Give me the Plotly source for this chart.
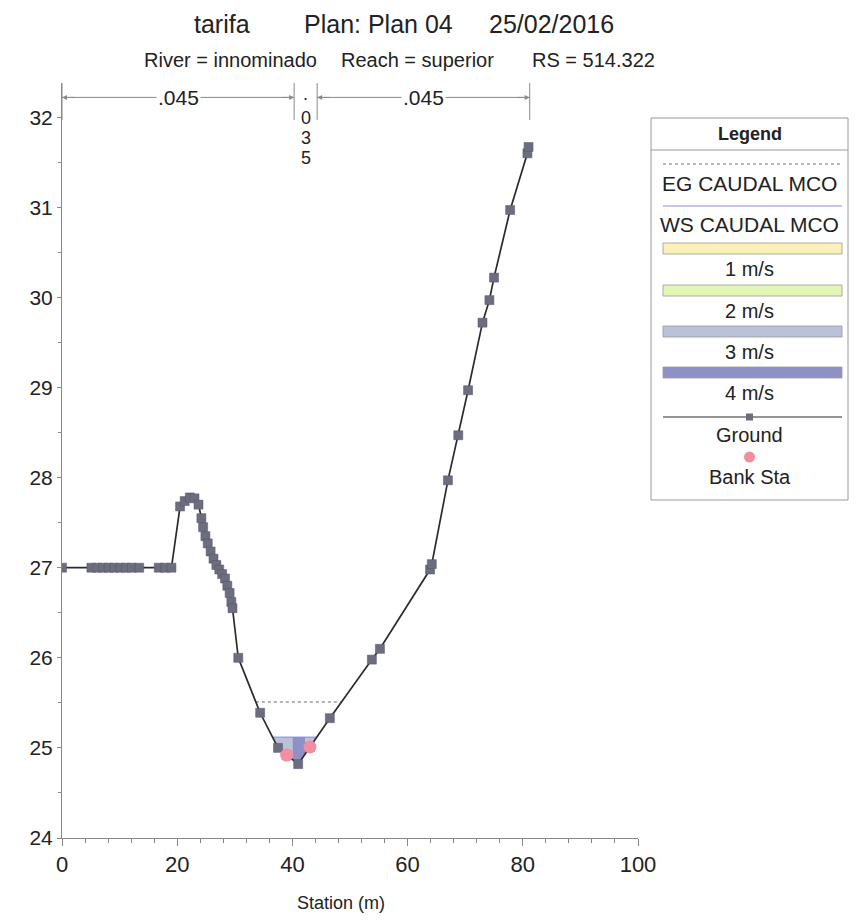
import numpy as np
import plotly.graph_objects as go

# ---------------- data ----------------
station = [0.0, 5.1, 6.1, 7.1, 8.1, 9.1, 10.1, 11.1, 12.1, 13.4, 16.8, 17.9, 19.0,
           20.5, 21.3, 22.2, 23.0, 23.7, 24.2, 24.5, 24.9, 25.3, 25.8, 26.3, 26.8,
           27.3, 27.8, 28.3, 28.7, 29.1, 29.4, 29.6, 30.6, 34.4, 37.5, 39.0, 41.0,
           43.05, 46.5, 53.8, 55.2, 63.9, 64.2, 67.0, 68.8, 70.5, 73.0, 74.2, 75.0,
           77.8, 80.8, 81.0]
elevation = [27.0, 27.0, 27.0, 27.0, 27.0, 27.0, 27.0, 27.0, 27.0, 27.0, 27.0, 27.0, 27.0,
             27.68, 27.74, 27.78, 27.77, 27.70, 27.55, 27.45, 27.35, 27.27, 27.18, 27.10, 27.03,
             26.98, 26.93, 26.88, 26.80, 26.72, 26.62, 26.55, 26.00, 25.39, 25.00, 24.92, 24.82,
             25.01, 25.33, 25.98, 26.10, 26.98, 27.04, 27.97, 28.47, 28.97, 29.72, 29.97, 30.22,
             30.97, 31.60, 31.67]
bank_sta = [39.0, 43.05]
ws_elev = 25.12           # WS CAUDAL MCO
eg_elev = 25.51           # EG CAUDAL MCO
vel_inner_edges = [40.0, 42.2]   # velocity slice boundaries inside the wetted width
vel_classes = [3, 4, 3]          # m/s class of each slice
n_breaks = [0.0, 40.3, 44.3, 81.2]
n_values = [".045", ".035", ".045"]
legend_vel = ["1 m/s", "2 m/s", "3 m/s", "4 m/s"]
title_parts = ["tarifa", "Plan: Plan 04", "25/02/2016"]
sub_parts = ["River = innominado", "Reach = superior", "RS = 514.322"]
x_title = "Station (m)"
x_ticks = [0, 20, 40, 60, 80, 100]
y_ticks = [24, 25, 26, 27, 28, 29, 30, 31, 32]
x_range = [0, 100]
y_range = [24, 32.38]

# ---------------- styles ----------------
FONT = "Arial, Liberation Sans, sans-serif"
TXT = "#222222"
vel_colors = {1: "#fbf1b8", 2: "#e4f6b6", 3: "#b9c2da", 4: "#8f91c6"}
GROUND_MK = "#6d6d80"
BANK_COL = "#f38da0"
WS_COL = "#8c8cd8"
AX_COL = "#888888"

st = np.array(station)
el = np.array(elevation)
imin = int(np.argmin(el))


def crossing(level, left=True):
    if left:
        for i in range(imin, 0, -1):
            if el[i - 1] >= level > el[i] or el[i - 1] > level >= el[i]:
                return float(np.interp(level, [el[i], el[i - 1]], [st[i], st[i - 1]]))
    else:
        for i in range(imin, len(st) - 1):
            if el[i] <= level < el[i + 1] or el[i] < level <= el[i + 1]:
                return float(np.interp(level, [el[i], el[i + 1]], [st[i], st[i + 1]]))
    return None


ws_l, ws_r = crossing(ws_elev, True), crossing(ws_elev, False)
eg_l, eg_r = crossing(eg_elev, True), crossing(eg_elev, False)

fig = go.Figure()

# velocity slices
edges = [ws_l] + vel_inner_edges + [ws_r]
for k, cls in enumerate(vel_classes):
    a, b = edges[k], edges[k + 1]
    inner = [s for s in station if a < s < b]
    xs = [a] + inner + [b]
    ys = [float(np.interp(x, st, el)) for x in xs]
    px_ = [a, b] + xs[::-1]
    py_ = [ws_elev, ws_elev] + ys[::-1]
    fig.add_trace(go.Scatter(x=px_, y=py_, fill="toself", fillcolor=vel_colors[cls],
                             line=dict(width=0), mode="lines", hoverinfo="skip",
                             showlegend=False))

# WS line
fig.add_trace(go.Scatter(x=[ws_l, ws_r], y=[ws_elev, ws_elev], mode="lines",
                         line=dict(color=WS_COL, width=1), showlegend=False))
# EG line
fig.add_trace(go.Scatter(x=[eg_l, eg_r], y=[eg_elev, eg_elev], mode="lines",
                         line=dict(color="#666666", width=1, dash="dot"), showlegend=False))
# Ground
fig.add_trace(go.Scatter(x=station, y=elevation, mode="lines+markers",
                         line=dict(color="#2b2b2b", width=1.7),
                         marker=dict(symbol="square", size=9, color=GROUND_MK,
                                     line=dict(width=0.5, color="#55556a")),
                         showlegend=False))
# Bank stations
fig.add_trace(go.Scatter(x=bank_sta, y=[float(np.interp(b, st, el)) for b in bank_sta],
                         mode="markers", marker=dict(symbol="circle", size=13, color=BANK_COL),
                         showlegend=False))

# ---------------- Manning's n annotations ----------------
n_top, n_bot, n_arrow = 32.38, 31.97, 32.22
n_char_step = 0.225
for b in n_breaks:
    fig.add_shape(type="line", xref="x", yref="y", x0=b, x1=b, y0=n_bot, y1=n_top,
                  line=dict(color="#8a8a8a", width=1), layer="above")
for k, val in enumerate(n_values):
    a, b = n_breaks[k], n_breaks[k + 1]
    mid = (a + b) / 2
    if b - a > 10:
        fig.add_shape(type="line", xref="x", yref="y", x0=a, x1=b, y0=n_arrow, y1=n_arrow,
                      line=dict(color="#8a8a8a", width=1), layer="above")
        for tip, off in ((a, 14), (b, -14)):
            fig.add_annotation(x=tip, y=n_arrow, xref="x", yref="y", ax=off, ay=0, text="",
                               showarrow=True, arrowhead=2, arrowsize=1, arrowwidth=1,
                               arrowcolor="#8a8a8a")
        fig.add_annotation(x=mid, y=n_arrow, xref="x", yref="y", xanchor="center",
                           yanchor="middle", text=val, showarrow=False,
                           bgcolor="white", font=dict(family=FONT, size=21, color=TXT))
    else:
        for j, ch in enumerate(val):
            fig.add_annotation(x=mid, y=n_arrow - j * n_char_step + (0.04 if j == 0 else 0),
                               xref="x", yref="y", xanchor="center", yanchor="middle",
                               text=ch, showarrow=False,
                               font=dict(family=FONT, size=18, color=TXT))

# ---------------- layout helpers (reference pixel -> paper) ----------------
OFF = 8                       # page body margin of the browser
W, H = 859 - OFF, 922 - OFF
L, R, T, B = 62, 638, 83, 838  # plot area in reference pixels


def px(x):
    return (x - L) / (R - L)


def py(y):
    return (B - y) / (B - T)


def label(x, y, text, size, bold=False, anchor="center"):
    fig.add_annotation(x=px(x), y=py(y), xref="paper", yref="paper", xanchor=anchor,
                       yanchor="middle", text=("<b>%s</b>" % text) if bold else text,
                       showarrow=False, font=dict(family=FONT, size=size, color=TXT))


# title lines
for txt, x0 in zip(title_parts, [192, 302, 487]):
    label(x0, 24, txt, 25, anchor="left")
for txt, x0 in zip(sub_parts, [142, 339, 530]):
    label(x0, 60, txt, 20, anchor="left")
# x-axis title
label(341, 903, x_title, 18)

# ---------------- legend box ----------------
LX0, LX1 = 651, 848
IX0, IX1 = 663, 842
CX = (LX0 + LX1) / 2
fig.add_shape(type="rect", xref="paper", yref="paper", x0=px(LX0), x1=px(LX1),
              y0=py(500), y1=py(118), line=dict(color="#9a9a9a", width=1), fillcolor="white",
              layer="below")
fig.add_shape(type="line", xref="paper", yref="paper", x0=px(LX0), x1=px(LX1),
              y0=py(150), y1=py(150), line=dict(color="#9a9a9a", width=1))
label(CX, 134, "Legend", 18, bold=True)
# EG
fig.add_shape(type="line", xref="paper", yref="paper", x0=px(IX0), x1=px(IX1),
              y0=py(164), y1=py(164), line=dict(color="#777777", width=1, dash="dot"))
label(CX, 184, "EG CAUDAL MCO", 21)
# WS
fig.add_shape(type="line", xref="paper", yref="paper", x0=px(IX0), x1=px(IX1),
              y0=py(206), y1=py(206), line=dict(color=WS_COL, width=1))
label(CX, 224, "WS CAUDAL MCO", 21)
# velocity bars
bar_tops = [243, 285, 326, 367]
for k, lab in enumerate(legend_vel):
    t = bar_tops[k]
    fig.add_shape(type="rect", xref="paper", yref="paper", x0=px(IX0), x1=px(IX1),
                  y0=py(t + 11), y1=py(t), fillcolor=vel_colors[k + 1],
                  line=dict(color="#999999", width=0.8))
    label(CX, t + 26, lab, 20)
# Ground
fig.add_shape(type="line", xref="paper", yref="paper", x0=px(IX0), x1=px(IX1),
              y0=py(417), y1=py(417), line=dict(color="#2b2b2b", width=1))
fig.add_shape(type="rect", xref="paper", yref="paper", x0=px(CX - 3.5), x1=px(CX + 3.5),
              y0=py(420.5), y1=py(413.5), fillcolor=GROUND_MK, line=dict(width=0))
label(CX, 435, "Ground", 20)
# Bank Sta
fig.add_shape(type="circle", xref="paper", yref="paper", x0=px(CX - 5.5), x1=px(CX + 5.5),
              y0=py(462.5), y1=py(451.5), fillcolor=BANK_COL, line=dict(width=0))
label(CX, 477, "Bank Sta", 20)

# ---------------- axes ----------------
fig.update_layout(
    width=W, height=H,
    margin=dict(l=L - OFF, r=W - (R - OFF), t=T - OFF, b=H - (B - OFF), autoexpand=False),
    paper_bgcolor="white", plot_bgcolor="white",
    showlegend=False,
    font=dict(family=FONT, color=TXT),
    xaxis=dict(range=x_range, tickmode="array", tickvals=x_ticks,
               ticks="outside", ticklen=7, tickcolor=AX_COL, showline=True,
               linecolor=AX_COL, linewidth=1, showgrid=False, zeroline=False,
               tickfont=dict(family=FONT, size=22, color=TXT),
               minor=dict(dtick=4, ticks="outside", ticklen=4, tickcolor=AX_COL,
                          showgrid=False)),
    yaxis=dict(range=y_range, tickmode="array", tickvals=y_ticks,
               ticks="outside", ticklen=4, tickcolor=AX_COL, showline=True,
               linecolor=AX_COL, linewidth=1, showgrid=False, zeroline=False,
               tickfont=dict(family=FONT, size=21, color=TXT),
               minor=dict(dtick=0.5, tick0=24, ticks="outside", ticklen=3,
                          tickcolor=AX_COL, showgrid=False)),
)

fig.write_html("out.html")
